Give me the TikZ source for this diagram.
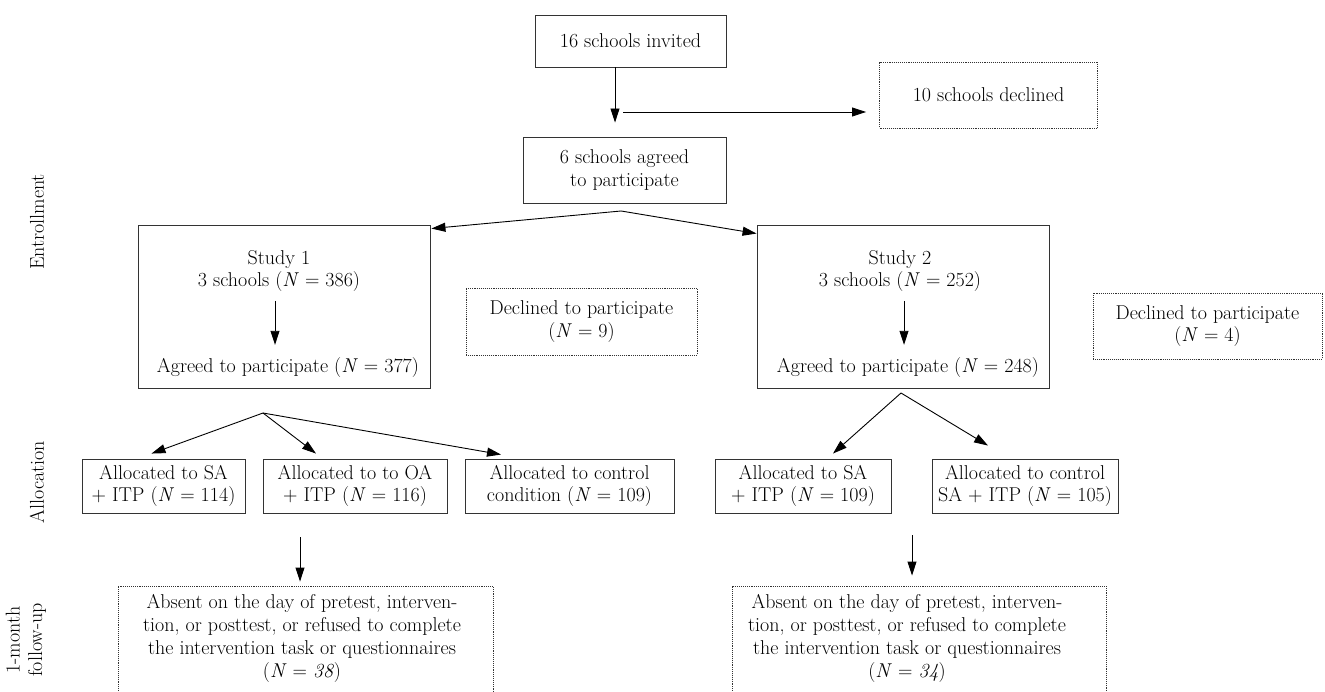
\documentclass[tikz,border=0pt]{standalone}
\usetikzlibrary{arrows.meta}
\begin{document}
\begin{tikzpicture}[x=1pt,y=-1pt,
  font=\fontsize{20}{22.5}\selectfont,
  box/.style={draw=black!80, line width=0.9pt, inner sep=0pt, align=center},
  dbox/.style={draw=black!80, line width=0.9pt, densely dotted, inner sep=0pt, align=center},
  txt/.style={inner sep=0pt, align=center},
  arr/.style={draw=black, line width=0.9pt, -{Triangle[length=14pt,width=9pt]}},
  side/.style={rotate=90, inner sep=0pt, align=center}]
\useasboundingbox (0,0) rectangle (1325,692);

% side labels
\node[side] (l1) at (37,222) {Entrollment};
\node[side] (l2) at (37,482) {Allocation};
\node[side] (l3) at (26,640) {1-month\\follow-up};

% top
\node[box, minimum width=191pt, minimum height=52pt] (inv) at (630.5,41) {16 schools invited};
\node[dbox, minimum width=218pt, minimum height=66pt] (dec10) at (988.5,95) {10 schools declined};
\node[box, minimum width=203pt, minimum height=66pt] (agr) at (624.5,170) {6 schools agreed\\to participate};
\coordinate (split) at (615,112);
\draw[arr, shorten >=14pt] (inv.south -| split) -- (agr.north -| split);
\draw[arr, shorten >=13pt] ([xshift=8pt]split) -- (dec10.west |- split);

% studies
\node[box, minimum width=292pt, minimum height=163pt] (s1) at (284,306.5) {};
\node[txt] (s1t) at (279,271) {Study 1\\3 schools (\textit{N} = 386)};
\node[txt] (s1b) at (288,368) {Agreed to participate (\textit{N} = 377)};
\coordinate (s1x) at (275,0);
\draw[arr, shorten <=9pt, shorten >=13pt] (s1t.south -| s1x) -- (s1b.north -| s1x);

\node[box, minimum width=292pt, minimum height=163pt] (s2) at (903,306.5) {};
\node[txt] (s2t) at (900,271) {Study 2\\3 schools (\textit{N} = 252)};
\node[txt] (s2b) at (908,368) {Agreed to participate (\textit{N} = 248)};
\coordinate (s2x) at (904,0);
\draw[arr, shorten <=9pt, shorten >=13pt] (s2t.south -| s2x) -- (s2b.north -| s2x);

\coordinate (p0) at (621,211);
\draw[arr] (p0) -- ([xshift=1pt,yshift=-4pt]s1.north east);
\draw[arr] (p0) -- ([yshift=-9pt]s2.north west);

\node[dbox, minimum width=231pt, minimum height=67pt] (dec9) at (581.5,321.5) {Declined to participate\\(\textit{N} = 9)};
\node[dbox, minimum width=229pt, minimum height=66pt] (dec4) at (1207.5,326) {Declined to participate\\(\textit{N} = 4)};

% allocation
\node[box, minimum width=163pt, minimum height=54pt] (a1) at (163.5,486) {Allocated to SA\\+ ITP (\textit{N} = 114)};
\node[box, minimum width=184pt, minimum height=54pt] (a2) at (355,486) {Allocated to to OA\\+ ITP (\textit{N} = 116)};
\node[box, minimum width=209pt, minimum height=54pt] (a3) at (569.5,486) {Allocated to control\\condition (\textit{N} = 109)};
\node[box, minimum width=176pt, minimum height=54pt] (a4) at (803,486) {Allocated to SA\\+ ITP (\textit{N} = 109)};
\node[box, minimum width=186pt, minimum height=54pt] (a5) at (1025,486) {Allocated to control\\SA + ITP (\textit{N} = 105)};

\coordinate (p1) at (263,413);
\draw[arr] (p1) -- ([xshift=-12pt,yshift=5pt]a1.north);
\draw[arr] (p1) -- ([xshift=-39pt,yshift=5pt]a2.north);
\draw[arr] (p1) -- ([xshift=-68.5pt,yshift=4pt]a3.north);
\coordinate (p2) at (901,393);
\draw[arr] (p2) -- ([xshift=30pt,yshift=5pt]a4.north);
\draw[arr] (p2) -- ([xshift=-37pt,yshift=13pt]a5.north);

% follow-up
\node[dbox, minimum width=375pt, minimum height=134pt] (f1) at (305.5,653) {};
\node[txt, font=\fontsize{20}{23}\selectfont] (f1t) at (302,638) {Absent on the day of pretest, interven-\\tion, or posttest, or refused to complete\\the intervention task or questionnaires\\(\textit{N} = \textit{38})};
\node[dbox, minimum width=374pt, minimum height=134pt] (f2) at (919,653) {};
\node[txt, font=\fontsize{20}{23}\selectfont] (f2t) at (907,638) {Absent on the day of pretest, interven-\\tion, or posttest, or refused to complete\\the intervention task or questionnaires\\(\textit{N} = \textit{34})};

\coordinate (b1) at (300,537);
\draw[arr, shorten >=4pt] (b1) -- (b1 |- f1.north);
\coordinate (b2) at (912,535);
\draw[arr, shorten >=10pt] (b2) -- (b2 |- f2.north);
\end{tikzpicture}
\end{document}
